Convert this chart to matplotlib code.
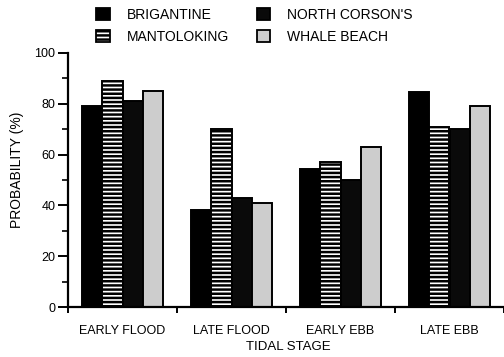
import numpy as np
import matplotlib
matplotlib.use("Agg")
import matplotlib.pyplot as plt
from matplotlib.patches import Patch

# ── Data ─────────────────────────────────────────────────────────────────────
stages = ["EARLY FLOOD", "LATE FLOOD", "EARLY EBB", "LATE EBB"]
brigantine = [79, 38, 54.5, 84.5]
mantoloking = [89, 70, 57, 71]
north_corsons = [81, 43, 50, 70]
whale_beach = [85, 41, 63, 79]

series_names = ["BRIGANTINE", "MANTOLOKING", "NORTH CORSON'S", "WHALE BEACH"]

plt.rcParams["font.family"] = ["Liberation Sans", "DejaVu Sans"]
plt.rcParams["hatch.linewidth"] = 1.8
plt.rcParams["hatch.color"] = "black"

fig = plt.figure(figsize=(5.04, 3.57), dpi=100)
ax = fig.add_axes([68 / 504, 1 - 307 / 357, 1 - 68 / 504, 254 / 357])

x = np.arange(len(stages))
bw = 0.187
styles = [
    dict(facecolor="black", edgecolor="black", hatch=None),
    dict(facecolor="white", edgecolor="black", hatch="----"),
    dict(facecolor="#0a0a0a", edgecolor="black", hatch=None),
    dict(facecolor="#cdcdcd", edgecolor="black", hatch=None),
]
values = [brigantine, mantoloking, north_corsons, whale_beach]

for i, (vals, st) in enumerate(zip(values, styles)):
    ax.bar(x + (i - 1.5) * bw, vals, width=bw, linewidth=1.4, **st)

ax.set_xlim(-0.5, -0.5 + 436 / 110)
ax.set_ylim(0, 100)

ax.spines["top"].set_visible(False)
ax.spines["right"].set_visible(False)
for s in ("left", "bottom"):
    ax.spines[s].set_linewidth(1.6)

ax.set_yticks([0, 20, 40, 60, 80, 100])
ax.set_yticks([10, 30, 50, 70, 90], minor=True)
ax.tick_params(axis="y", which="major", length=7, width=1.4, labelsize=9, pad=2)
ax.tick_params(axis="y", which="minor", length=4, width=1.2)

# group separators as ticks, stage names centred without ticks
ax.set_xticks(np.arange(len(stages) + 1) - 0.5)
ax.set_xticklabels([])
ax.tick_params(axis="x", which="major", length=4, width=1.4, direction="out")
ax.set_xticks(x, minor=True)
ax.set_xticklabels(stages, minor=True)
ax.tick_params(axis="x", which="minor", length=0, labelsize=9, pad=13)

fig.text(17 / 504, 1 - 170 / 357, "PROBABILITY (%)", fontsize=10,
         rotation=90, ha="center", va="center")
fig.text(288 / 504, 1 - 347 / 357, "TIDAL STAGE", fontsize=9.5,
         ha="center", va="center")

handles = [Patch(linewidth=1.3, **st) for st in styles]
fig.legend(handles, series_names, ncol=2, loc="upper left",
           bbox_to_anchor=(96 / 504, 1 - 8 / 357), frameon=False,
           fontsize=10, borderpad=0, borderaxespad=0,
           handlelength=1.0, handleheight=1.0, handletextpad=1.2,
           columnspacing=2.0, labelspacing=0.55)

fig.savefig("out.png", dpi=100)
